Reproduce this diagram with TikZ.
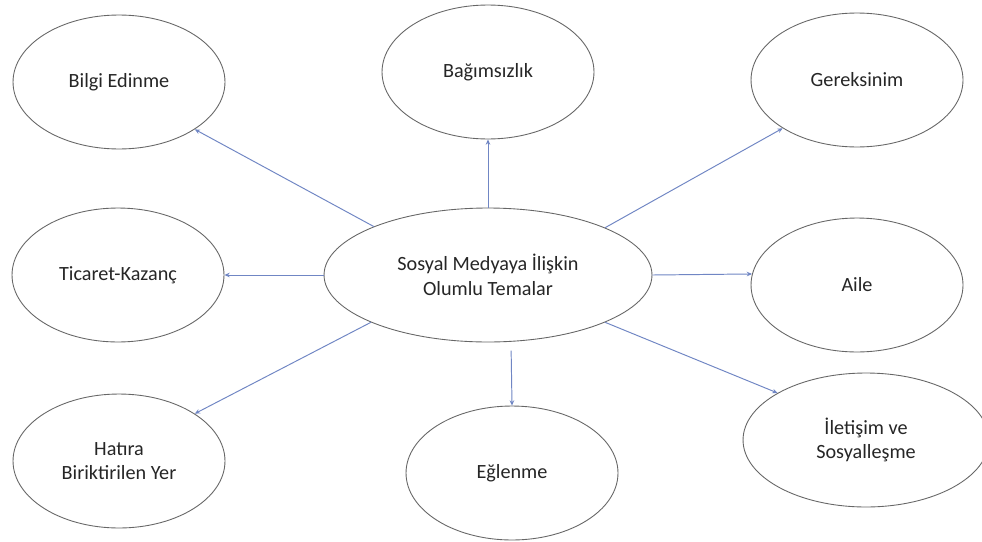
\documentclass[tikz,border=0pt]{standalone}
\usepackage{fontspec}
\setmainfont{Carlito}
\usepackage{tikz}
\usetikzlibrary{shapes.geometric,arrows.meta}
\definecolor{okmavi}{RGB}{112,134,196}

\begin{document}
\begin{tikzpicture}[x=0.02cm,y=-0.02cm,
		tema/.style={ellipse,draw=black!60,line width=0.5pt,inner sep=0pt,minimum width=4.24cm,minimum height=2.68cm,align=center,text=black!85,font=\fontsize{11.5}{14}\selectfont},
		ok/.style={-{Stealth[length=3pt,width=2.6pt]},draw=okmavi,line width=0.55pt}]
		\useasboundingbox (0,0) rectangle (982,541);
		\fill[white] (0,0) rectangle (982,541);

		\node[tema,minimum width=6.56cm] (cen) at (488,275) {Sosyal Medyaya İlişkin\\Olumlu Temalar};

		\node[tema] (bilgi) at (119,82) {Bilgi Edinme};
		\node[tema] (bagim) at (488,72) {Bağımsızlık};
		\node[tema] (gerek) at (857,80) {Gereksinim};
		\node[tema] (ticaret) at (118,275) {Ticaret-Kazanç};
		\node[tema] (aile) at (857,285) {Aile};
		\node[tema] (hatira) at (119,461) {Hatıra\\Biriktirilen Yer};
		\node[tema] (eglen) at (512,473) {Eğlenme};
		\node[tema,minimum width=4.92cm] (ilet) at (866,440) {İletişim ve\\Sosyalleşme};

		\draw[ok] (cen.157) -- (bilgi.328);
		\draw[ok] (cen.north) -- (bagim.south);
		\draw[ok] (cen.22) -- (gerek.213);
		\draw[ok] (cen.west) -- (ticaret.east);
		\draw[ok] (cen.east) -- (aile.174);
		\draw[ok] (cen.202) -- (hatira.32);
		\draw[ok,shorten <=5pt] (cen.289) -- (eglen.north);
		\draw[ok] (cen.338) -- (ilet.152);
		\end{tikzpicture}
\end{document}
